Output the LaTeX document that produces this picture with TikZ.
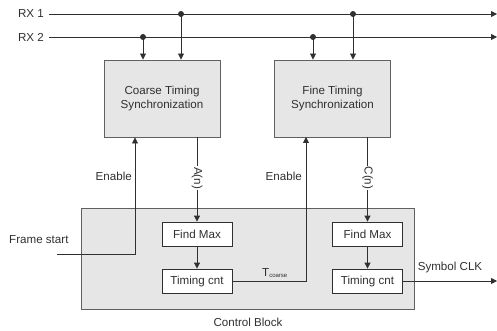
\documentclass[tikz,border=0pt]{standalone}
\usepackage{fontspec}
\setmainfont{Liberation Sans}
\usetikzlibrary{arrows.meta}
\definecolor{boxfill}{HTML}{E6E6E6}
\definecolor{linec}{HTML}{303030}
\definecolor{boxline}{HTML}{606060}
\begin{document}
\begin{tikzpicture}[x=1pt,y=-1pt,
  every node/.style={font=\fontsize{11.6}{13.5}\selectfont, text=linec},
  wire/.style={draw=linec, line width=0.8pt},
  arr/.style={wire, -{Triangle[width=6pt,length=6pt]}},
  dot/.style={circle, fill=linec, inner sep=0pt, minimum size=6pt},
  bigbox/.style={draw=boxline, fill=boxfill, line width=0.9pt, align=center, minimum width=116pt, minimum height=77pt, inner sep=0pt},
  smallbox/.style={draw=linec, fill=white, line width=0.8pt, minimum width=70pt, minimum height=24pt, inner sep=0pt},
  lbl/.style={inner sep=1pt}]
\useasboundingbox (0,0) rectangle (497,331);
% control block
\node[draw=boxline, fill=boxfill, line width=0.9pt, minimum width=333pt, minimum height=101pt, inner sep=0pt] (ctrl) at (247.5,258.5) {};
\node (ctrllbl) at (248,322) {Control Block};
% big boxes
\node[bigbox] (coarse) at (162,98.5) {Coarse Timing\\[1pt]Synchronization};
\node[bigbox] (fine) at (332.5,98.5) {Fine Timing\\[1pt]Synchronization};
% small boxes
\node[smallbox] (fm1) at (197,234) {Find Max};
\node[smallbox] (tc1) at (197,281) {Timing cnt};
\node[smallbox] (fm2) at (367.5,234) {Find Max};
\node[smallbox] (tc2) at (367.5,281) {Timing cnt};
% RX lines
\node[anchor=east, lbl] (rx1) at (45,14) {RX 1};
\node[anchor=east, lbl] (rx2) at (45,37) {RX 2};
\coordinate (rx1s) at (49,14);
\coordinate (rx2s) at (49,37);
\coordinate (rx1e) at (497,14);
\coordinate (rx2e) at (497,37);
\draw[arr] (rx1s) -- (rx1e);
\draw[arr] (rx2s) -- (rx2e);
\node[dot] (d1) at (181,14) {};
\node[dot] (d2) at (143,37) {};
\node[dot] (d3) at (353,14) {};
\node[dot] (d4) at (313,37) {};
\draw[arr] (d1.center) -- (d1.center |- coarse.north);
\draw[arr] (d2.center) -- (d2.center |- coarse.north);
\draw[arr] (d3.center) -- (d3.center |- fine.north);
\draw[arr] (d4.center) -- (d4.center |- fine.north);
% frame start / enable
\coordinate (fs) at (57,254);
\node[anchor=south west, lbl] (fslbl) at (8,245) {Frame start};
\draw[arr] (fs) -- (135,254) -- (135,254 |- coarse.south);
\node[anchor=east, lbl] (en1) at (133,176) {Enable};
% A(n)
\draw[arr] (197,137) -- (fm1.north);
\node[fill=white, rotate=-90, inner sep=1pt] (an) at (197,178) {A(n)};
\draw[arr] (fm1.south) -- (tc1.north);
% Tcoarse
\draw[arr] (tc1.east) -- (306,281) -- (306,137);
\node[anchor=east, lbl] (en2) at (303,176) {Enable};
\node[lbl] (tco) at (275,273) {T\textsubscript{\fontsize{6}{7}\selectfont coarse}};
% C(n)
\draw[arr] (367.5,137) -- (fm2.north);
\node[fill=white, rotate=-90, inner sep=1pt] (cn) at (367.5,178) {C(n)};
\draw[arr] (fm2.south) -- (tc2.north);
% Symbol CLK
\coordinate (clk) at (497,281);
\draw[arr] (tc2.east) -- (clk);
\node[lbl] (clklbl) at (450,267) {Symbol CLK};
\end{tikzpicture}
\end{document}
